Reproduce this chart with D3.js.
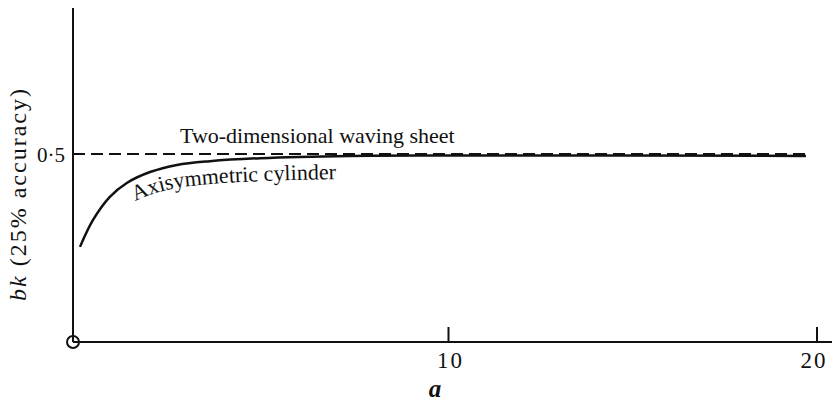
<!DOCTYPE html>
<html>
<head>
<meta charset="utf-8">
<script src="https://cdn.jsdelivr.net/npm/d3@7"></script>
<style>
  body { margin: 0; background: #fff; }
  svg { display: block; }
  text { font-family: "Liberation Serif", "DejaVu Serif", serif; fill: #111; }
</style>
</head>
<body>
<div id="app"></div>
<script>
const width = 832;
const height = 405;

// values
const cylinderA  = [0, 0.35, 0.81, 1.27, 1.90, 2.63, 3.52, 4.88, 7.32, 10.03, 19.7];
const cylinderBk = [0.253, 0.324, 0.386, 0.423, 0.452, 0.471, 0.481, 0.489, 0.495, 0.496, 0.495];
const sheetA  = [-0.19, 19.7];
const sheetBk = [0.5, 0.5];
const xTicks = [10, 20];
const yTicks = [0.5];
const yTickLabels = ['0·5'];

const axisLeft = 73;
const axisBottom = 342;
const axisTop = 8;

const x = d3.scaleLinear().domain([0, 20]).range([80, 817]);
const y = d3.scaleLinear().domain([0, 0.5]).range([axisBottom, 154]);

const svg = d3.select('#app').append('svg')
  .attr('width', width)
  .attr('height', height)
  .attr('viewBox', `0 0 ${width} ${height}`);

// axes
svg.append('line')
  .attr('x1', axisLeft).attr('x2', axisLeft)
  .attr('y1', axisTop).attr('y2', axisBottom)
  .attr('stroke', '#111').attr('stroke-width', 2);

svg.append('line')
  .attr('x1', axisLeft).attr('x2', width)
  .attr('y1', axisBottom).attr('y2', axisBottom)
  .attr('stroke', '#111').attr('stroke-width', 2);

svg.append('circle')
  .attr('cx', axisLeft).attr('cy', axisBottom).attr('r', 6)
  .attr('fill', 'none').attr('stroke', '#111').attr('stroke-width', 2);

svg.selectAll('.xtick').data(xTicks).enter().append('line')
  .attr('x1', d => x(d)).attr('x2', d => x(d))
  .attr('y1', axisBottom).attr('y2', axisBottom - 15)
  .attr('stroke', '#111').attr('stroke-width', 2);

svg.selectAll('.xlabel').data(xTicks).enter().append('text')
  .attr('x', (d, i) => x(d) + (i ? -3 : 2)).attr('y', 368)
  .attr('text-anchor', 'middle')
  .attr('font-size', 23)
  .attr('letter-spacing', 2)
  .text(d => d);

svg.selectAll('.ylabel').data(yTicks).enter().append('text')
  .attr('x', 65).attr('y', d => y(d) + 8)
  .attr('text-anchor', 'end')
  .attr('font-size', 21)
  .text((d, i) => yTickLabels[i]);

svg.append('text')
  .attr('x', 435).attr('y', 397)
  .attr('text-anchor', 'middle')
  .attr('font-size', 25)
  .attr('font-style', 'italic')
  .attr('font-weight', 'bold')
  .text('a');

const yTitle = svg.append('text')
  .attr('transform', 'translate(26,194) rotate(-90)')
  .attr('text-anchor', 'middle')
  .attr('font-size', 24)
  .attr('letter-spacing', 2);
yTitle.append('tspan').attr('font-style', 'italic').text('bk');
yTitle.append('tspan').text(' (25% accuracy)');

// lines
const line = d3.line()
  .x(d => x(d[0]))
  .y(d => y(d[1]))
  .curve(d3.curveCatmullRom.alpha(0.5));

svg.append('path')
  .datum(sheetA.map((a, i) => [a, sheetBk[i]]))
  .attr('d', line)
  .attr('fill', 'none')
  .attr('stroke', '#111')
  .attr('stroke-width', 2.2)
  .attr('stroke-dasharray', '12 6');

const cylinder = cylinderA.map((a, i) => [a, cylinderBk[i]]);

svg.append('path')
  .datum(cylinder)
  .attr('d', line)
  .attr('fill', 'none')
  .attr('stroke', '#111')
  .attr('stroke-width', 2.5);

// label path running just under the curve
const labelLine = d3.line()
  .x(d => x(d[0]))
  .y(d => y(d[1]) + 23)
  .curve(d3.curveCatmullRom.alpha(0.5));

svg.append('defs').append('path')
  .attr('id', 'cylinderLabel')
  .attr('d', labelLine(cylinder));

svg.append('text')
  .attr('font-size', 22)
  .append('textPath')
  .attr('href', '#cylinderLabel')
  .attr('startOffset', 90)
  .text('Axisymmetric cylinder');

svg.append('text')
  .attr('x', 180).attr('y', 143)
  .attr('font-size', 22)
  .text('Two-dimensional waving sheet');
</script>
</body>
</html>
